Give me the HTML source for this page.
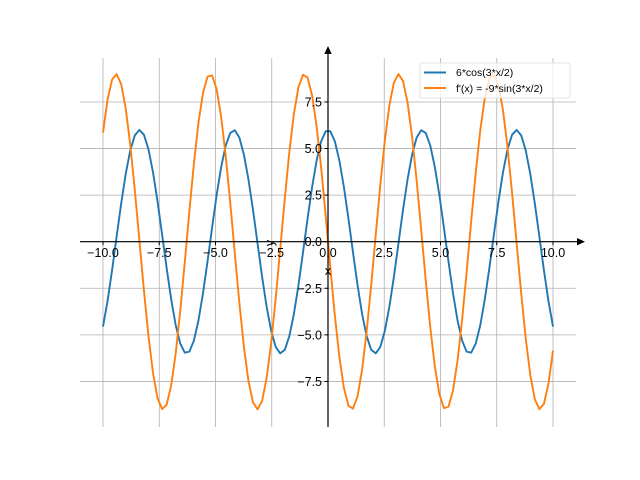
<!DOCTYPE html>
<html><head><style>body{margin:0;background:#fff}svg{display:block}text{font-family:"Liberation Sans","DejaVu Sans",sans-serif;font-size:12.5px;fill:#000}</style></head>
<body>
<svg id="s" width="640" height="480" xmlns="http://www.w3.org/2000/svg">
<g stroke="#b0b0b0" stroke-width="0.8" id="grid"></g>
<polyline id="p1" fill="none" stroke="#1f77b4" stroke-width="1.9" stroke-linejoin="round"/>
<polyline id="p2" fill="none" stroke="#ff7f0e" stroke-width="1.9" stroke-linejoin="round"/>
<line x1="80" y1="241.7" x2="578" y2="241.7" stroke="#000" stroke-width="1.2"/>
<line x1="328" y1="427" x2="328" y2="52" stroke="#000" stroke-width="1.2"/>
<polygon points="585,241.7 577,238 577,245.4" fill="#000"/>
<polygon points="328,46 324.3,54 331.7,54" fill="#000"/>
<g id="lab"></g>
<text x="328" y="275" text-anchor="middle">x</text>
<text transform="translate(274,243) rotate(-90)" text-anchor="middle">y</text>
<rect x="420" y="63" width="150" height="35" fill="#fff" fill-opacity="0.8" stroke="#ddd" stroke-width="0.8" rx="2"/>
<line x1="424" y1="72.5" x2="446" y2="72.5" stroke="#1f77b4" stroke-width="1.9"/>
<line x1="424" y1="88" x2="446" y2="88" stroke="#ff7f0e" stroke-width="1.9"/>
<text x="456" y="76" style="font-size:10.5px">6*cos(3*x/2)</text>
<text x="456" y="92" style="font-size:10.5px">f'(x) = -9*sin(3*x/2)</text>
</svg>
<script>
var X=function(x){return 328+22.5*x},Y=function(y){return 241.7-18.63*y};
var g=document.getElementById('grid'),lab=document.getElementById('lab'),h='';
for(var v=-10;v<=10;v+=2.5){h+='<line x1="'+X(v)+'" y1="58" x2="'+X(v)+'" y2="427"/>';}
for(var v=-7.5;v<=7.5;v+=2.5){h+='<line x1="80" y1="'+Y(v)+'" x2="576" y2="'+Y(v)+'"/>';}
g.innerHTML=h;h='';
for(var v=-10;v<=10;v+=2.5){h+='<line x1="'+X(v)+'" y1="241.7" x2="'+X(v)+'" y2="245.2" stroke="#000"/><text x="'+X(v)+'" y="257" text-anchor="middle">'+(v<0?'\u2212':'')+Math.abs(v).toFixed(1)+'</text>';}
for(var v=-7.5;v<=7.5;v+=2.5){h+='<line x1="324.5" y1="'+Y(v)+'" x2="328" y2="'+Y(v)+'" stroke="#000"/><text x="322" y="'+(Y(v)+4.5)+'" text-anchor="end">'+(v<0?'\u2212':'')+Math.abs(v).toFixed(1)+'</text>';}
lab.innerHTML=h;
var a=[],b=[];
for(var i=0;i<100;i++){var x=-10+20*i/99;a.push(X(x)+','+Y(6*Math.cos(1.5*x)));b.push(X(x)+','+Y(-9*Math.sin(1.5*x)));}
document.getElementById('p1').setAttribute('points',a.join(' '));
document.getElementById('p2').setAttribute('points',b.join(' '));
</script>
</body></html>
